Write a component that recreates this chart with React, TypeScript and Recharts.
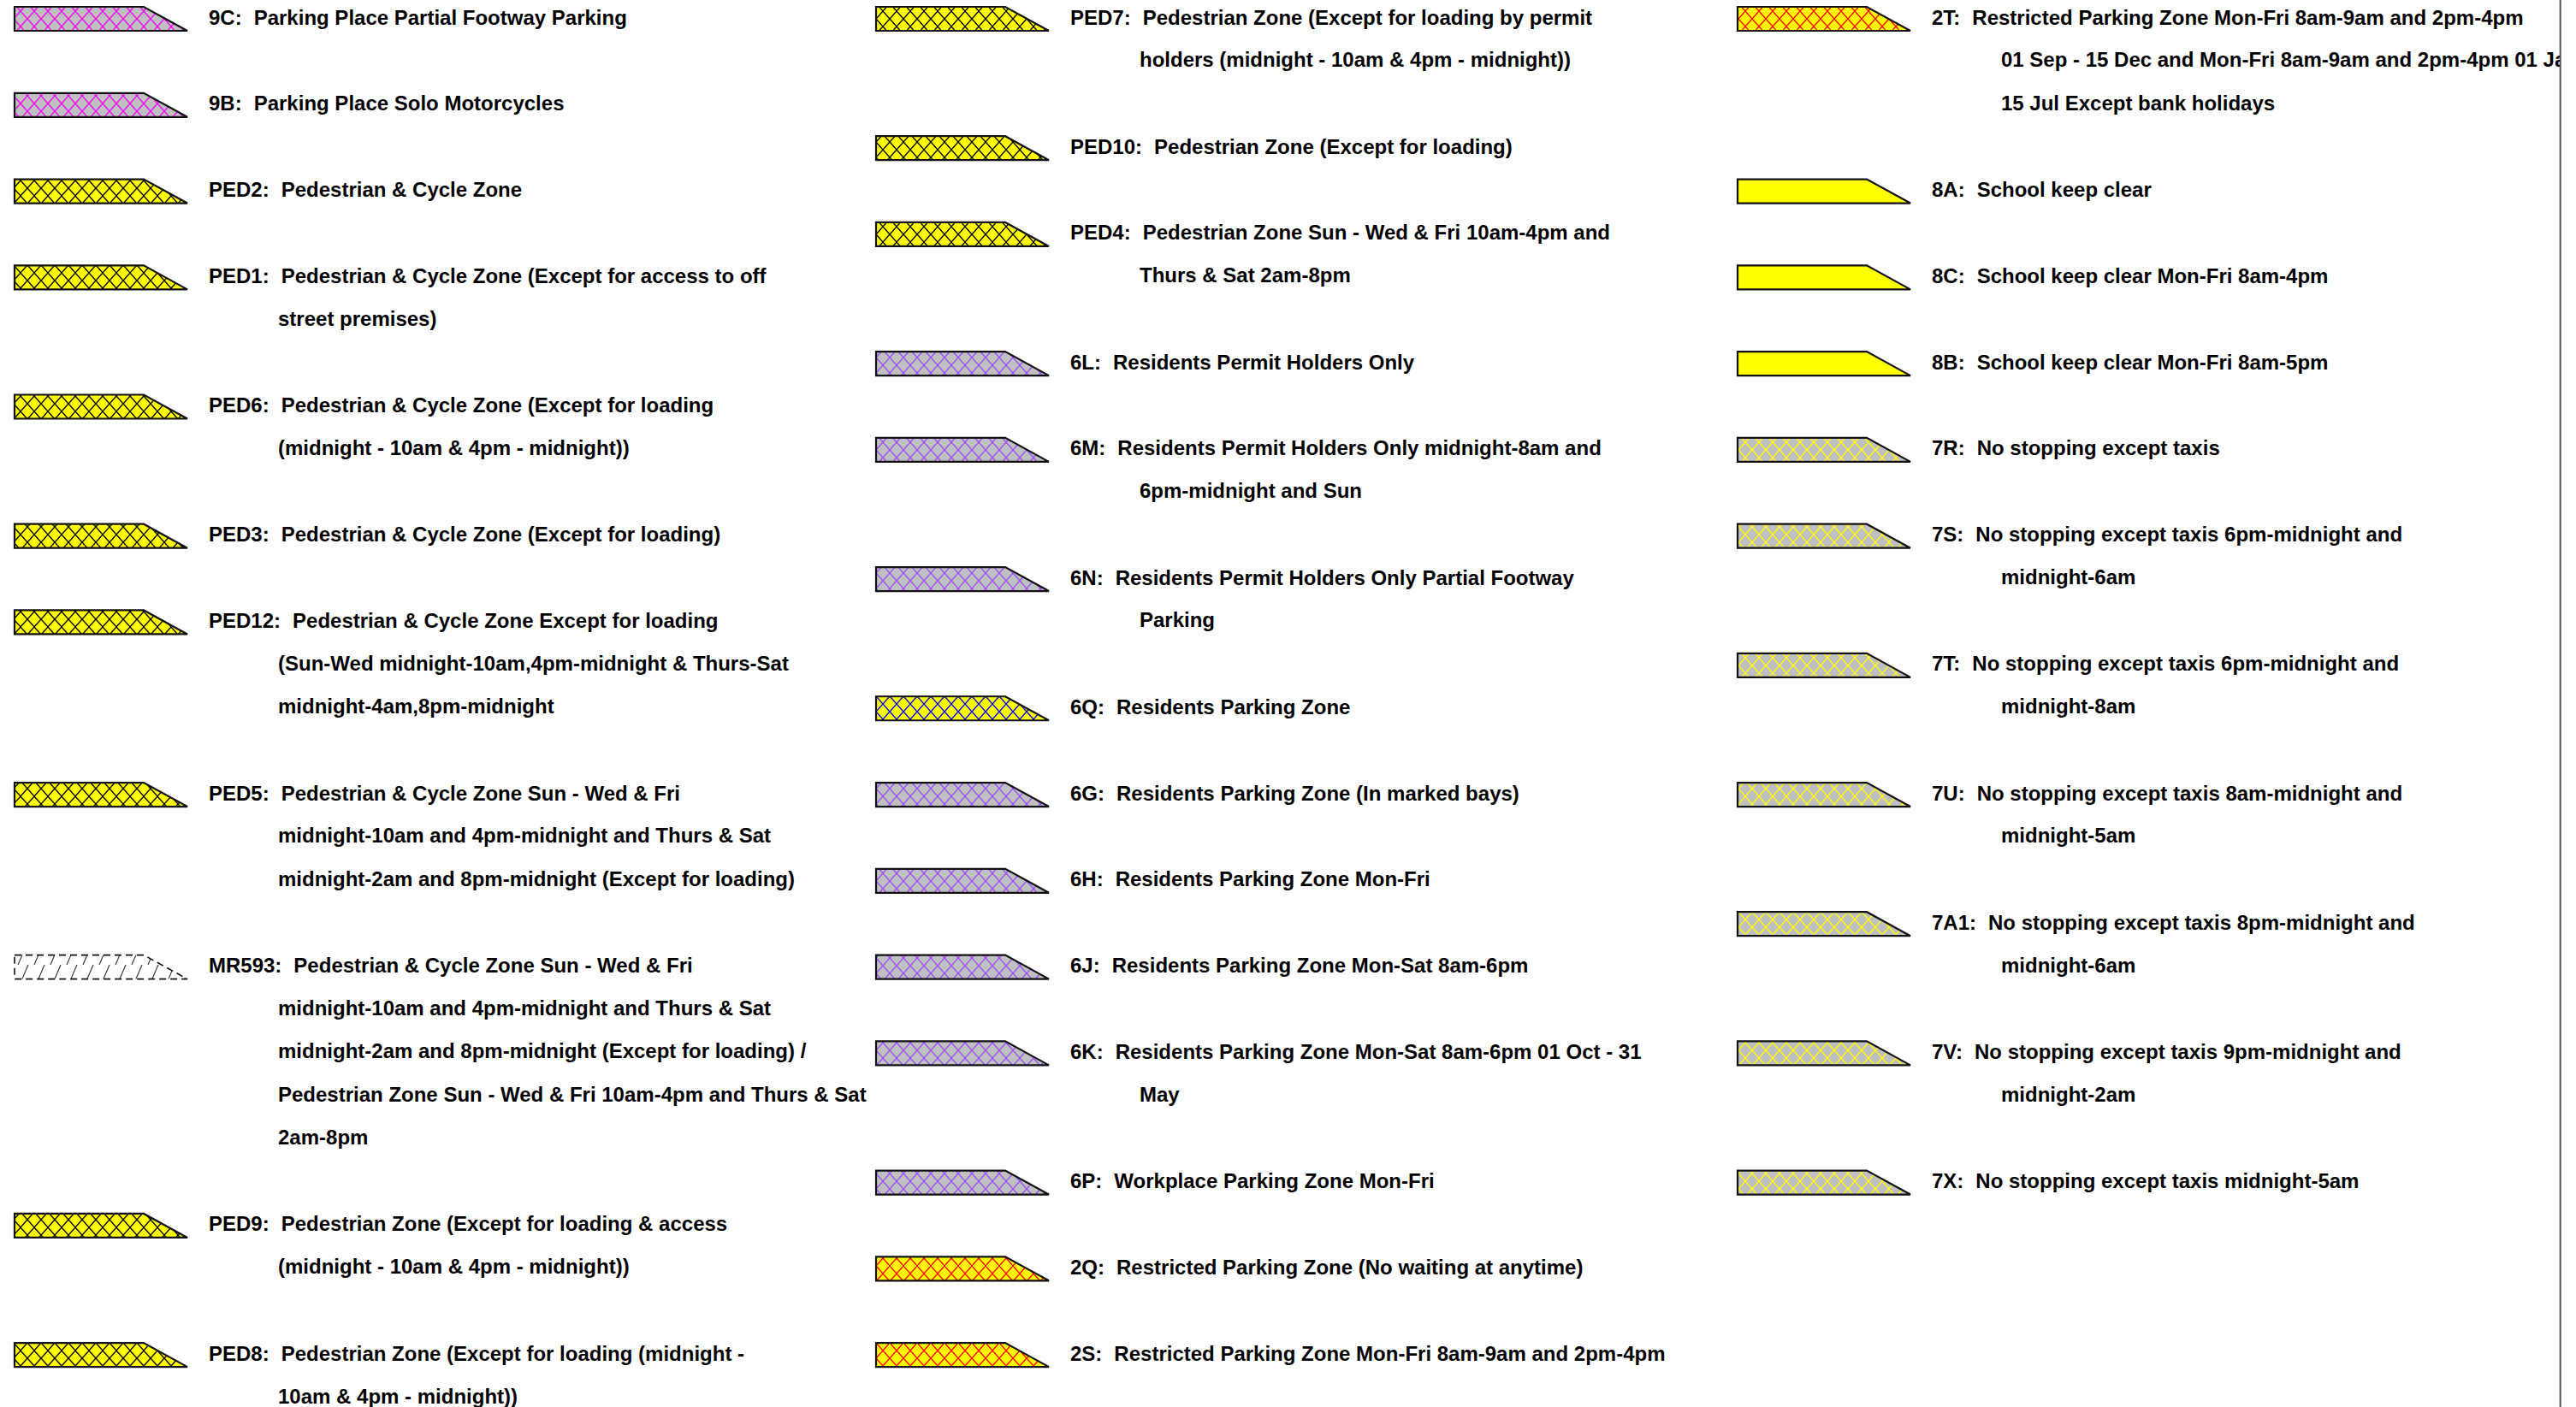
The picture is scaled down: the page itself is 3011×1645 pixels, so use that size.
import React from "react";
import { ScatterChart, Scatter, XAxis, YAxis, ReferenceLine } from "recharts";

// legend entries, listed column by column (top to bottom)
const codes = [
  "9C", "9B", "PED2", "PED1", "PED6", "PED3", "PED12", "PED5", "MR593", "PED9", "PED8",
  "PED7", "PED10", "PED4", "6L", "6M", "6N", "6Q", "6G", "6H", "6J", "6K", "6P", "2Q", "2S",
  "2T", "8A", "8C", "8B", "7R", "7S", "7T", "7U", "7A1", "7V", "7X",
];

const descriptions: string[][] = [
  ["Parking Place Partial Footway Parking"],
  ["Parking Place Solo Motorcycles"],
  ["Pedestrian & Cycle Zone"],
  ["Pedestrian & Cycle Zone (Except for access to off", "street premises)"],
  ["Pedestrian & Cycle Zone (Except for loading", "(midnight - 10am & 4pm - midnight))"],
  ["Pedestrian & Cycle Zone (Except for loading)"],
  ["Pedestrian & Cycle Zone Except for loading", "(Sun-Wed midnight-10am,4pm-midnight & Thurs-Sat", "midnight-4am,8pm-midnight"],
  ["Pedestrian & Cycle Zone Sun - Wed & Fri", "midnight-10am and 4pm-midnight and Thurs & Sat", "midnight-2am and 8pm-midnight (Except for loading)"],
  [
    "Pedestrian & Cycle Zone Sun - Wed & Fri",
    "midnight-10am and 4pm-midnight and Thurs & Sat",
    "midnight-2am and 8pm-midnight (Except for loading) /",
    "Pedestrian Zone Sun - Wed & Fri 10am-4pm and Thurs & Sat",
    "2am-8pm",
  ],
  ["Pedestrian Zone (Except for loading & access", "(midnight - 10am & 4pm - midnight))"],
  ["Pedestrian Zone (Except for loading (midnight -", "10am & 4pm - midnight))"],
  ["Pedestrian Zone (Except for loading by permit", "holders (midnight - 10am & 4pm - midnight))"],
  ["Pedestrian Zone (Except for loading)"],
  ["Pedestrian Zone Sun - Wed & Fri 10am-4pm and", "Thurs & Sat 2am-8pm"],
  ["Residents Permit Holders Only"],
  ["Residents Permit Holders Only midnight-8am and", "6pm-midnight and Sun"],
  ["Residents Permit Holders Only Partial Footway", "Parking"],
  ["Residents Parking Zone"],
  ["Residents Parking Zone (In marked bays)"],
  ["Residents Parking Zone Mon-Fri"],
  ["Residents Parking Zone Mon-Sat 8am-6pm"],
  ["Residents Parking Zone Mon-Sat 8am-6pm 01 Oct - 31", "May"],
  ["Workplace Parking Zone Mon-Fri"],
  ["Restricted Parking Zone (No waiting at anytime)"],
  ["Restricted Parking Zone Mon-Fri 8am-9am and 2pm-4pm"],
  ["Restricted Parking Zone Mon-Fri 8am-9am and 2pm-4pm", "01 Sep - 15 Dec and Mon-Fri 8am-9am and 2pm-4pm 01 Jan -", "15 Jul Except bank holidays"],
  ["School keep clear"],
  ["School keep clear Mon-Fri 8am-4pm"],
  ["School keep clear Mon-Fri 8am-5pm"],
  ["No stopping except taxis"],
  ["No stopping except taxis 6pm-midnight and", "midnight-6am"],
  ["No stopping except taxis 6pm-midnight and", "midnight-8am"],
  ["No stopping except taxis 8am-midnight and", "midnight-5am"],
  ["No stopping except taxis 8pm-midnight and", "midnight-6am"],
  ["No stopping except taxis 9pm-midnight and", "midnight-2am"],
  ["No stopping except taxis midnight-5am"],
];

const columns = [
  0, 0, 0, 0, 0, 0, 0, 0, 0, 0, 0,
  1, 1, 1, 1, 1, 1, 1, 1, 1, 1, 1, 1, 1, 1,
  2, 2, 2, 2, 2, 2, 2, 2, 2, 2, 2,
];

// text line on which each entry starts
const rows = [
  0, 2, 4, 6, 9, 12, 14, 18, 22, 28, 31,
  0, 3, 5, 8, 10, 13, 16, 18, 20, 22, 24, 27, 29, 31,
  0, 4, 6, 8, 10, 12, 15, 18, 21, 24, 27,
];

const fills = [
  "magenta", "magenta", "ped", "ped", "ped", "ped", "ped", "ped", "hatch", "ped", "ped",
  "ped", "ped", "ped", "purple", "purple", "purple", "blue", "purple", "purple", "purple", "purple", "purple", "red", "red",
  "red", "solid", "solid", "solid", "taxi", "taxi", "taxi", "taxi", "taxi", "taxi", "taxi",
];

const FONT = "'Liberation Sans', Arial, sans-serif";

const symbols = codes.map((code, i) => ({ code, col: columns[i], row: rows[i], fill: fills[i] }));
const labels = codes.flatMap((code, i) =>
  descriptions[i].map((text, k) => ({ code: k === 0 ? code : "", text, col: columns[i], row: rows[i] + k }))
);

const PATTERNS: Record<string, { bg: string; line: string }> = {
  magenta: { bg: "#c0c0c0", line: "#ff00ff" },
  ped: { bg: "#ffff00", line: "#000000" },
  purple: { bg: "#c0c0c0", line: "#9a4dff" },
  blue: { bg: "#ffff00", line: "#0000ff" },
  red: { bg: "#ffff00", line: "#ff0000" },
  taxi: { bg: "#c0c0c0", line: "#ffff00" },
};

function SymbolShape(props: any) {
  const { cx, cy, payload } = props;
  const top = cy - 11.5;
  const d = `M${cx},${top} H${cx + 151} L${cx + 202},${top + 28} H${cx} Z`;
  const f = payload.fill;
  const fill = f === "solid" ? "#ffff00" : `url(#pat-${f})`;
  return (
    <path
      d={d}
      fill={fill}
      stroke="#111"
      strokeWidth={f === "hatch" ? 1.6 : 2.2}
      strokeDasharray={f === "hatch" ? "8 5" : undefined}
    />
  );
}

function LabelShape(props: any) {
  const { cx, cy, payload } = props;
  if (payload.code) {
    return (
      <text x={cx + 227} y={cy} dominantBaseline="central" fontFamily={FONT} fontWeight="bold" fontSize={24} fill="#000" clipPath="url(#frame-clip)">
        <tspan>{payload.code + ":"}</tspan>
        <tspan dx={14}>{payload.text}</tspan>
      </text>
    );
  }
  return (
    <text x={cx + 308} y={cy} dominantBaseline="central" fontFamily={FONT} fontWeight="bold" fontSize={24} fill="#000" clipPath="url(#frame-clip)">
      {payload.text}
    </text>
  );
}

export default function App() {
  return (
    <div style={{ position: "absolute", left: 0, top: 0, background: "#fff" }}>
      <ScatterChart width={3011} height={1645} margin={{ top: 19.5, right: 980, bottom: 13, left: 17 }}>
        <defs>
          {Object.entries(PATTERNS).map(([key, p]) => (
            <pattern key={key} id={`pat-${key}`} width={16} height={18} patternUnits="userSpaceOnUse" y={4}>
              <rect width={16} height={18} fill={p.bg} />
              <path d="M0,0 L16,18 M16,0 L0,18" stroke={p.line} strokeWidth={1.4} />
            </pattern>
          ))}
          <pattern id="pat-hatch" width={19} height={28} patternUnits="userSpaceOnUse" y={8}>
            <rect width={19} height={28} fill="#fff" />
            <path d="M2,28 L14,0 M21,28 L33,0 M-17,28 L-5,0" stroke="#333" strokeWidth={1.1} />
          </pattern>
          <clipPath id="frame-clip">
            <rect x={0} y={0} width={2992} height={1645} />
          </clipPath>
        </defs>
        <XAxis type="number" dataKey="col" domain={[0, 2]} hide />
        <YAxis type="number" dataKey="row" domain={[0, 32]} reversed hide />
        <Scatter data={symbols} shape={SymbolShape} isAnimationActive={false} />
        <Scatter data={labels} shape={LabelShape} isAnimationActive={false} />
        <ReferenceLine
          segment={[{ x: 2.955, y: -0.5 }, { x: 2.955, y: 32.3 }]}
          stroke="#555"
          strokeWidth={2}
          ifOverflow="visible"
        />
      </ScatterChart>
    </div>
  );
}
